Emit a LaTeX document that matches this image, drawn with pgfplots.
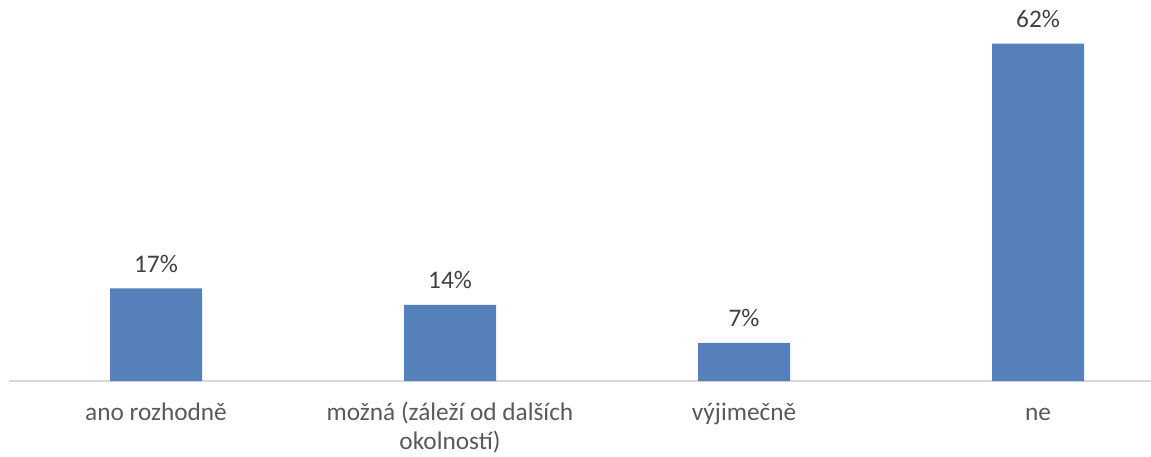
\documentclass[border=0pt]{standalone}
\usepackage{fontspec}
\setmainfont{Carlito}
\usepackage{pgfplots}
\pgfplotsset{compat=1.18}
\definecolor{barBlue}{HTML}{5580B9}
\definecolor{axisGray}{HTML}{D9D9D9}
\definecolor{labelInk}{HTML}{404040}
\definecolor{tickInk}{HTML}{595959}

\begin{document}
\begin{tikzpicture}
\useasboundingbox (-4.5bp,-38bp) rectangle (571bp,190.5bp);
\begin{axis}[
  scale only axis,
  width=571bp,
  height=190.5bp,
  ybar,
  bar width=46bp,
  xmin=-0.5, xmax=3.384,
  ymin=0, ymax=70,
  xtick=data,
  xticklabels={\strut ano rozhodně,{\strut možná (záleží od dalších\\okolností)},\strut výjimečně,\strut ne},
  xticklabel style={align=center, anchor=north, inner sep=0pt, yshift=-9.35bp,
    font=\fontsize{12.7}{14.5}\selectfont, text=tickInk},
  major tick length=0pt,
  ytick=\empty,
  axis x line*=bottom,
  axis y line=none,
  x axis line style={draw=axisGray, line width=0.8bp, -},
  /pgf/number format/assume math mode=true,
  nodes near coords={\pgfmathprintnumber{\pgfplotspointmeta}\%},
  every node near coord/.append style={anchor=base, inner sep=0pt, yshift=8bp,
    font=\fontsize{12.7}{14.5}\selectfont, text=labelInk},
  clip=false
]
\addplot[fill=barBlue, draw=none] coordinates {
  (0,17)
  (1,14)
  (2,7)
  (3,62)
};
\end{axis}
\end{tikzpicture}
\end{document}
